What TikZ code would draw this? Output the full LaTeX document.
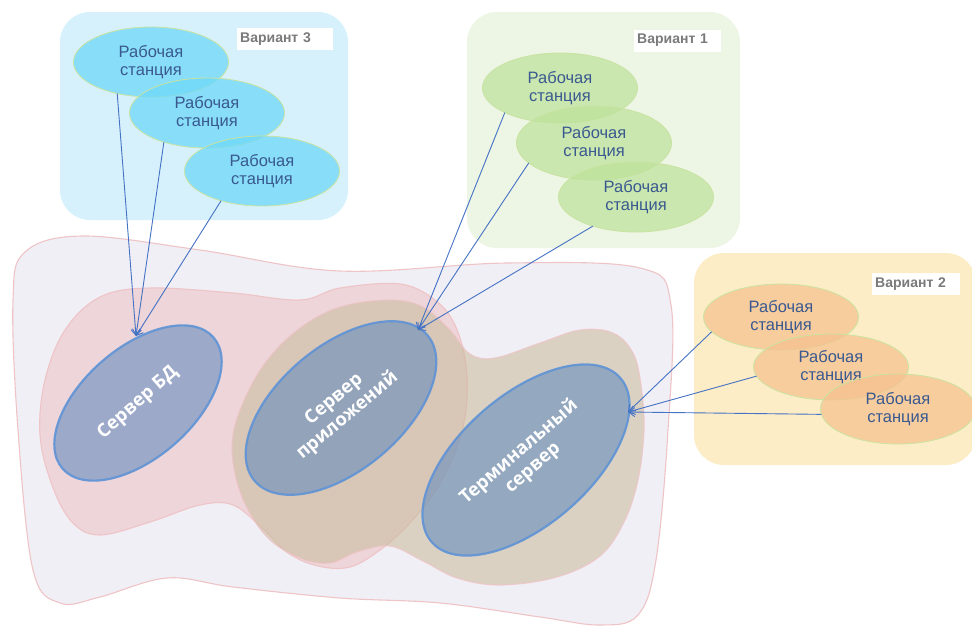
\documentclass[tikz,border=0pt]{standalone}
\usepackage{fontspec}
\setmainfont{Liberation Sans}
\newfontfamily\srvfont{Open Sans}
\usetikzlibrary{shapes.geometric,arrows.meta}
\definecolor{boxthree}{HTML}{D6F1FC}
\definecolor{boxone}{HTML}{EDF5E4}
\definecolor{boxtwo}{HTML}{FDEDC6}
\definecolor{wscyan}{HTML}{6FD8F8}
\definecolor{wsgreen}{HTML}{BDE29A}
\definecolor{wsorange}{HTML}{F6C08E}
\definecolor{wsborder}{HTML}{C9E3A0}
\definecolor{wstext}{HTML}{39598F}
\definecolor{lavender}{HTML}{F1EFF6}
\definecolor{blobborder}{HTML}{EEC4C6}
\definecolor{pinkfill}{HTML}{EDD5D9}
\definecolor{tanfill}{HTML}{C8BA9A}
\definecolor{srvfill}{HTML}{668DBD}
\definecolor{srvborder}{HTML}{5F93D6}
\definecolor{arrowblue}{HTML}{4472C4}
\definecolor{labelgray}{HTML}{7A7A7A}
\tikzset{
  vbox/.style={rounded corners=30pt},
  ws/.style={ellipse, minimum width=155pt, minimum height=70pt, inner sep=0pt, outer sep=0pt,
    draw=wsborder, line width=0.8pt, text=wstext, align=center, text opacity=1,
    font=\fontsize{16.5}{18.5}\selectfont},
  wsthree/.style={ws, fill=wscyan, fill opacity=0.75},
  wsone/.style={ws, fill=wsgreen, fill opacity=0.7},
  wstwo/.style={ws, fill=wsorange, fill opacity=0.7},
  vlabel/.style={fill=white, anchor=west, minimum height=22pt, inner xsep=3pt, inner ysep=0pt,
    align=left, text=labelgray, font=\bfseries\fontsize{14}{16}\selectfont},
  server/.style={ellipse, inner sep=0pt, outer sep=0pt, fill=srvfill, fill opacity=0.6,
    text opacity=1, draw=srvborder, draw opacity=0.9, line width=2.2pt, text=white, align=center,
    font=\srvfont\bfseries\fontsize{18.5}{21}\selectfont},
  conn/.style={draw=arrowblue, line width=0.9pt, -{Straight Barb[length=6pt,width=9pt]}}
}
\begin{document}
\begin{tikzpicture}[x=1pt,y=-1pt]
\useasboundingbox (0,0) rectangle (972,632);
\clip (0,0) rectangle (972,632);
% variant boxes
\fill[boxthree, vbox] (60,12) rectangle (348,220);
\fill[boxone, vbox] (467,12) rectangle (740,248);
\fill[boxtwo, vbox] (694,253) rectangle (976,465);
% outer blob
\draw[fill=lavender, draw=blobborder, line width=1.1pt]
  plot[smooth cycle, tension=0.6] coordinates {
  (83,236) (200,250) (340,271) (507,263) (640,268) (671,305) (668,430) (656,560)
  (638,615) (600,625) (540,617) (440,603) (340,598) (233,587) (167,578) (100,597)
  (60,603) (33,570) (18,430) (13,300) (25,252)};
% pink blob
\draw[fill=pinkfill, draw=blobborder, line width=1.1pt]
  plot[smooth cycle, tension=0.6] coordinates {
  (100,297) (150,288) (233,293) (300,300) (340,288) (400,284) (435,300) (455,325)
  (466,365) (466,410) (456,450) (436,490) (408,525) (380,550) (350,567) (318,566)
  (288,553) (262,528) (233,505) (200,505) (150,522) (100,535) (72,522) (52,485)
  (40,435) (45,380) (65,330)};
% tan blob
\draw[fill=tanfill, fill opacity=0.55, draw=blobborder, draw opacity=0.8, line width=1.1pt]
  plot[smooth cycle, tension=0.6] coordinates {
  (340,307) (390,300) (423,307) (450,330) (470,354) (495,358) (540,343) (580,330)
  (613,333) (633,353) (641,385) (644,430) (638,480) (624,522) (600,556) (557,577)
  (500,585) (457,578) (423,561) (390,546) (357,552) (330,563) (300,558) (267,537)
  (242,497) (232,450) (240,410) (265,363) (300,328)};
% variant labels
\node[vlabel, text width=90pt] (l3) at (237,39) {Вариант 3};
\node[vlabel, text width=81pt] (l1) at (634,40.5) {Вариант 1};
\node[vlabel, text width=82pt] (l2) at (872,284) {Вариант 2};
% workstations
\node[wsthree] (ws31) at (151,62) {Рабочая\\станция};
\node[wsthree] (ws32) at (207,113) {Рабочая\\станция};
\node[wsthree] (ws33) at (262,171) {Рабочая\\станция};
\node[wsone] (ws11) at (560,88) {Рабочая\\станция};
\node[wsone, minimum height=74pt] (ws12) at (594,143) {Рабочая\\станция};
\node[wsone] (ws13) at (636,197) {Рабочая\\станция};
\node[wstwo, minimum height=66pt] (ws21) at (781,317) {Рабочая\\станция};
\node[wstwo, minimum height=66pt] (ws22) at (831,367) {Рабочая\\станция};
\node[wstwo] (ws23) at (898,409) {Рабочая\\станция};
% servers
\node[server, rotate=41, minimum width=200pt, minimum height=110pt] (db) at (138,403) {Сервер БД};
\node[server, rotate=40, minimum width=226pt, minimum height=124pt] (app) at (341,408) {Сервер\\приложений};
\node[server, rotate=41, minimum width=250pt, minimum height=130pt] (term) at (526,460) {Терминальный\\сервер};
% arrow tips on the server borders
\coordinate (dbtip) at (136,336);
\coordinate (apptip) at (418,330);
\coordinate (termtip) at (628,412);
% connectors
\draw[conn] (ws31.223) -- (dbtip);
\draw[conn] (ws32.214) -- (dbtip);
\draw[conn] (ws33.216) -- (dbtip);
\draw[conn] (ws11.204) -- (apptip);
\draw[conn] (ws12.197) -- (apptip);
\draw[conn] (ws13.214) -- (apptip);
\draw[conn] (ws21.192) -- (termtip);
\draw[conn] (ws22.187) -- (termtip);
\draw[conn] (ws23.184) -- (termtip);
\end{tikzpicture}
\end{document}
